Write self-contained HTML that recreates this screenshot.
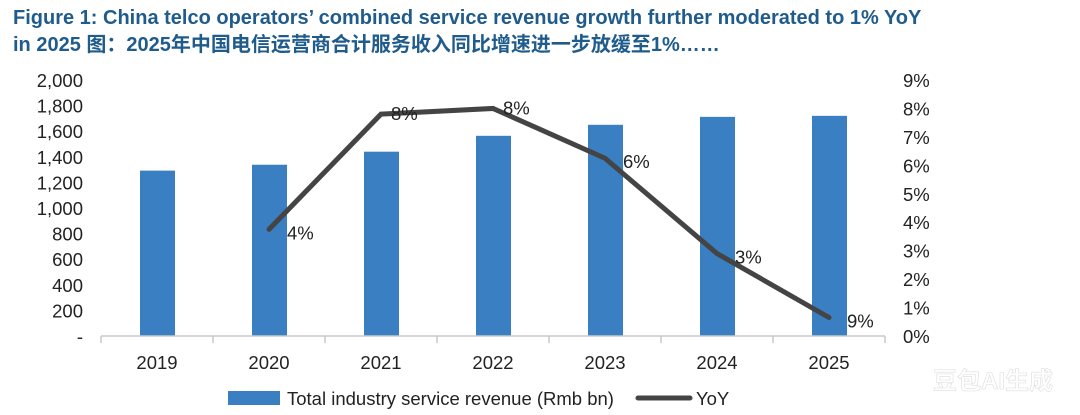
<!DOCTYPE html>
<html><head><meta charset="utf-8"><style>
body{margin:0;background:#fff;width:1080px;height:415px;overflow:hidden;font-family:"Liberation Sans","Noto Sans CJK SC",sans-serif}
.title{position:absolute;left:13px;top:5px;color:#1f5c8c;font-weight:bold;font-size:20px;line-height:27px;white-space:nowrap}
</style></head><body>
<div class="title">Figure 1: China telco operators’ combined service revenue growth further moderated to 1% YoY<br>in 2025 图：2025年中国电信运营商合计服务收入同比增速进一步放缓至1%……</div>
<svg id="c" width="1080" height="415" style="position:absolute;left:0;top:0"></svg>
<script>
const categories=["2019","2020","2021","2022","2023","2024","2025"];
const revenue=[1292,1338,1440,1564,1650,1712,1720];
const yoy=[null,3.75,7.8,8.0,6.25,2.9,0.65];
const yoyLabels=["","4%","8%","8%","6%","3%","9%"];
const leftTicks=[0,200,400,600,800,1000,1200,1400,1600,1800,2000];
const leftTickLabels=["-","200","400","600","800","1,000","1,200","1,400","1,600","1,800","2,000"];
const rightTicks=[0,1,2,3,4,5,6,7,8,9];
const NS="http://www.w3.org/2000/svg";
const svg=document.getElementById('c');
const x0=101,bw=112,y0=336,y1=80;
const yL=v=>y0-(v/2000)*(y0-y1);
const yR=v=>y0-(v/9)*(y0-y1);
const xc=i=>x0+bw*(i+0.5);
function mk(t,a,txt){const e=document.createElementNS(NS,t);for(const k in a)e.setAttribute(k,a[k]);if(txt!==undefined)e.textContent=txt;svg.appendChild(e);return e;}
leftTicks.forEach((v,i)=>{const e=mk('text',{x:83,y:yL(v)+7,'text-anchor':'end','font-size':18.5,fill:'#222'},leftTickLabels[i]);

});
rightTicks.forEach(v=>{const e=mk('text',{x:903,y:yR(v)+7,'font-size':18.5,fill:'#222'},v+'%');

});
revenue.forEach((v,i)=>{const e=mk('rect',{x:xc(i)-17,y:yL(v),width:35,height:y0-yL(v),fill:'#3a7fc1'});

});
const ax=mk('line',{x1:x0,y1:y0,x2:x0+bw*7,y2:y0,stroke:'#c8c8c8','stroke-width':1.5});


for(let i=0;i<=7;i++){mk('line',{x1:x0+bw*i,y1:y0,x2:x0+bw*i,y2:y0+7,stroke:'#c8c8c8','stroke-width':1.5});}
categories.forEach((c,i)=>{const e=mk('text',{x:xc(i),y:369,'text-anchor':'middle','font-size':18.5,fill:'#222'},c);

});
let pts=[];yoy.forEach((v,i)=>{if(v!==null)pts.push(xc(i)+','+yR(v));});
const ln=mk('polyline',{points:pts.join(' '),fill:'none',stroke:'#444','stroke-width':5,'stroke-linejoin':'miter','stroke-linecap':'round'});


yoy.forEach((v,i)=>{if(v===null)return;const e=mk('text',{x:xc(i)+(i==2||i==3?10:18),y:yR(v)+(i==2||i==3?6:10),'font-size':18.5,fill:'#222'},yoyLabels[i]);

});
const lb=mk('rect',{x:228,y:391,width:52,height:14,fill:'#3a7fc1'});


const lt=mk('text',{x:287,y:405,'font-size':18.5,fill:'#222'},'Total industry service revenue (Rmb bn)');


const ll=mk('line',{x1:638,y1:398,x2:690,y2:398,stroke:'#444','stroke-width':5,'stroke-linecap':'round'});


const lt2=mk('text',{x:696,y:405,'font-size':18.5,fill:'#222'},'YoY');


const wm=mk('text',{x:933,y:389,'font-size':24,'font-weight':'bold',fill:'#fff',stroke:'#ddd','stroke-width':0.6},'豆包AI生成');


</script>
</body></html>
